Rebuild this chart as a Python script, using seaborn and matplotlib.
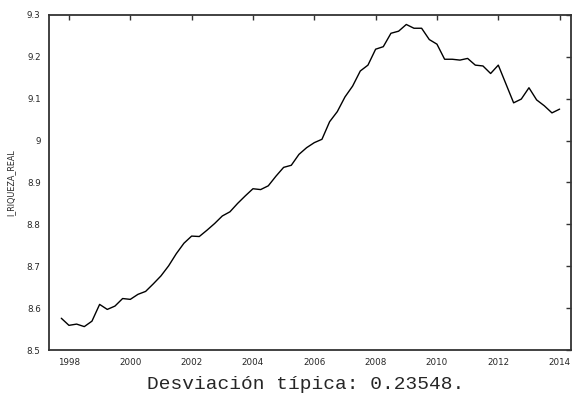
import numpy as np
import pandas as pd
import matplotlib
matplotlib.use("Agg")
import matplotlib.pyplot as plt
import seaborn as sns

# trimestral 1997:4 - 2014:1
periodos = np.arange(1997.75, 2014.01, 0.25)
riqueza = [
    8.576,
    8.559, 8.562, 8.556, 8.569,
    8.609, 8.597, 8.605, 8.623,
    8.621, 8.633, 8.640, 8.658,
    8.677, 8.701, 8.730, 8.755,
    8.772, 8.771, 8.786, 8.802,
    8.820, 8.830, 8.850, 8.868,
    8.885, 8.883, 8.892, 8.915,
    8.936, 8.941, 8.967, 8.983,
    8.995, 9.003, 9.045, 9.069,
    9.104, 9.130, 9.166, 9.180,
    9.218, 9.224, 9.256, 9.261,
    9.277, 9.268, 9.268, 9.241,
    9.230, 9.194, 9.194, 9.192,
    9.196, 9.180, 9.178, 9.160,
    9.180, 9.135, 9.090, 9.099,
    9.126, 9.097, 9.083, 9.066,
    9.075,
]
xticks = [1998, 2000, 2002, 2004, 2006, 2008, 2010, 2012, 2014]
yticks = [8.5, 8.6, 8.7, 8.8, 8.9, 9.0, 9.1, 9.2, 9.3]
ytick_labels = ["8.5", "8.6", "8.7", "8.8", "8.9", "9", "9.1", "9.2", "9.3"]

df = pd.DataFrame({"t": periodos, "l_RIQUEZA_REAL": riqueza})

sns.set_style("white")
fig = plt.figure(figsize=(5.72, 4.01), dpi=100)
ax = fig.add_axes([0.0857, 0.127, 0.9125, 0.836])

sns.lineplot(data=df, x="t", y="l_RIQUEZA_REAL", color="black", linewidth=1.0, ax=ax)

ax.set_xlim(1997.35, 2014.37)
ax.set_ylim(8.5, 9.3)
ax.set_xticks(xticks)
ax.set_xticklabels([str(x) for x in xticks])
ax.set_yticks(yticks)
ax.set_yticklabels(ytick_labels)
ax.tick_params(direction="in", length=3.5, width=1, color="#333333",
               top=True, right=True, labelsize=6.3, pad=6)
ax.set_xlabel("")
ax.set_ylabel("l_RIQUEZA_REAL", fontsize=5.8, labelpad=8)
for s in ax.spines.values():
    s.set_linewidth(1.3)
    s.set_color("#333333")

fig.text(0.535, 0.04, "Desviación típica: 0.23548.", ha="center", va="center",
         family="Liberation Mono", fontsize=14)

fig.savefig("out.png", dpi=100)
